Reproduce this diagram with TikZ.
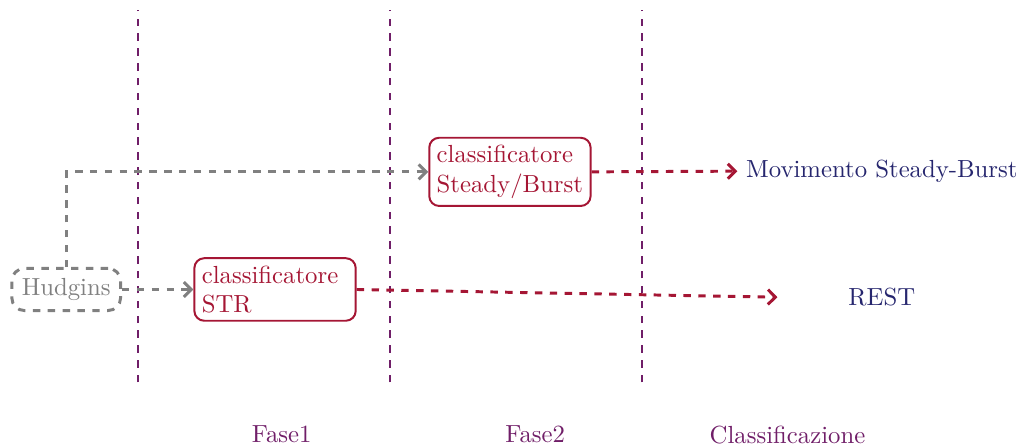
\documentclass[tikz,border=0pt]{standalone}
\usepackage{tikz}
\usetikzlibrary{arrows.meta,positioning}
\definecolor{clsred}{RGB}{165,22,52}
\definecolor{clsblue}{RGB}{38,38,110}
\definecolor{fasepurple}{RGB}{112,30,104}
\tikzset{
  cls schemes/.style = {
    % Blocchi
    clsbox/.style   = {draw=clsred, text=clsred, thick, rounded corners=4pt,
                       align=left, text width=2.08cm, inner sep=3pt},
    featbox/.style  = {draw=gray, text=gray, very thick, dashed,
                       rounded corners=5pt, inner sep=4pt},
    outtext/.style  = {text=clsblue},
    fasetext/.style = {text=fasepurple},
    % Linee, frecce
    fase line/.style  = {thick, dashed, fasepurple},
    feat line/.style  = {very thick, dashed, gray, -{Straight Barb[length=3pt]}},
    cls line/.style   = {very thick, dashed, clsred, -{Straight Barb[length=3pt]}},
  }
}
\begin{document}
\begin{tikzpicture}[cls schemes]
\useasboundingbox (0,0) rectangle (14.51,6.35);

\foreach \x in {1.96,5.54,9.12}
  \draw[fase line] (\x,0.92) -- (\x,6.21);

\node[featbox] (hud)    at (0.94,2.24)  {Hudgins};
\node[clsbox]  (str)    at (3.905,2.24) {classificatore\\STR};
\node[clsbox]  (steady) at (7.24,3.91)  {classificatore\\Steady/Burst};

\node[outtext] (mov)  at (12.52,3.92) {Movimento Steady-Burst};
\node[outtext, minimum width=2.95cm] (rest) at (12.52,2.13) {REST};

\node[fasetext] (f1) at (4.0,0.18)   {Fase1};
\node[fasetext] (f2) at (7.6,0.18)   {Fase2};
\node[fasetext] (fc) at (11.18,0.18) {Classificazione};

\draw[feat line] (hud.north) |- (steady.west);
\draw[feat line] (hud.east) -- (str.west);
\draw[cls line] (str.east) -- (rest.west);
\draw[cls line] (steady.east) -- (mov.west);

\end{tikzpicture}
\end{document}
